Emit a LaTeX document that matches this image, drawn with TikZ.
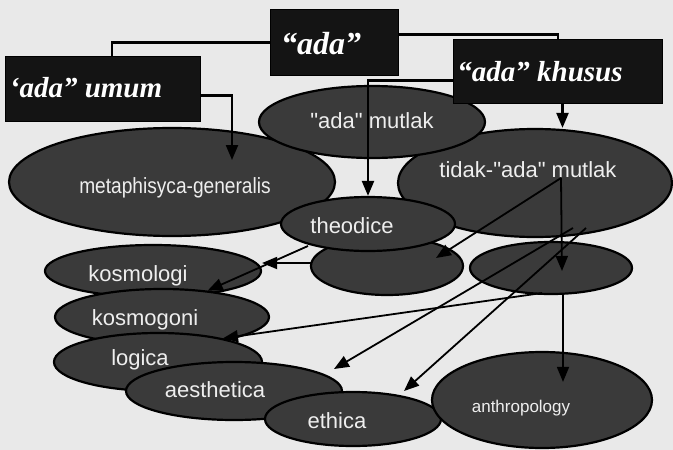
\documentclass[tikz,border=0pt]{standalone}
\usepackage{fontspec}
\setmainfont{Liberation Serif}
\newfontfamily\labfont{Liberation Sans}
\newfontfamily\labnarrow[FakeStretch=0.87]{Liberation Sans}
\usetikzlibrary{shapes.geometric,arrows.meta}
\definecolor{bgc}{HTML}{E9E9E9}
\definecolor{ellfill}{HTML}{3A3A3A}
\definecolor{boxfill}{HTML}{141414}
\definecolor{txtc}{HTML}{EEEEEE}
\begin{document}
\begin{tikzpicture}[x=1pt,y=-1pt,
  ell/.style={ellipse,draw=black,line width=2.2pt,fill=ellfill,inner sep=0pt},
  boxn/.style={rectangle,fill=boxfill,draw=black,line width=1pt,inner sep=0pt,anchor=north west},
  btxt/.style={text=white,font=\fontsize{29}{31}\selectfont\bfseries\itshape,inner sep=0pt},
  lab/.style={text=txtc,font=\labfont\fontsize{22}{24}\selectfont,inner sep=0pt},
  conn/.style={line width=2.8pt,draw=black},
  arr/.style={line width=1.8pt,draw=black,-{Triangle[length=15pt,width=12pt]}}]
\fill[bgc] (0,0) rectangle (673,450);
\useasboundingbox (0,0) rectangle (673,450);

% top ellipses
\node[ell,minimum width=326pt,minimum height=108pt] (meta) at (172,182) {};
\node[ell,minimum width=274pt,minimum height=108pt] (tidak) at (535,183) {};
\node[ell,minimum width=226pt,minimum height=72pt] (mutlak) at (372,122) {};
\node[ell,minimum width=152pt,minimum height=58pt] (mid) at (387,266) {};
\node[ell,minimum width=162pt,minimum height=52pt] (right) at (551,268) {};
\node[ell,minimum width=174pt,minimum height=54pt] (theo) at (368,224) {};
% lower ellipses
\node[ell,minimum width=216pt,minimum height=52pt] (kosl) at (153,271) {};
\node[ell,minimum width=214pt,minimum height=56pt] (kosg) at (162,317) {};
\node[ell,minimum width=208pt,minimum height=58pt] (logi) at (158,362) {};
\node[ell,minimum width=216pt,minimum height=58pt] (aest) at (234,391) {};
\node[ell,minimum width=176pt,minimum height=54pt] (ethi) at (353,419) {};
\node[ell,minimum width=220pt,minimum height=96pt] (anth) at (542,400) {};

% labels
\node[lab] (mutlakT) at (372,121) {"ada" mutlak};
\node[lab,font=\labnarrow\fontsize{22}{24}\selectfont] (metaT) at (175,188) {metaphisyca-generalis};
\node[lab] (tidakT) at (528,170) {tidak-"ada" mutlak};
\node[lab] (theoT) at (352,226) {theodice};
\node[lab] (koslT) at (138,276) {kosmologi};
\node[lab] (kosgT) at (145,320) {kosmogoni};
\node[lab] (logiT) at (140,360) {logica};
\node[lab] (aestT) at (215,390) {aesthetica};
\node[lab] (ethiT) at (337,421) {ethica};
\node[lab,font=\labfont\fontsize{17}{19}\selectfont] (anthT) at (521,408) {anthropology};

% boxes
\node[boxn,minimum width=128pt,minimum height=66pt] (ada) at (270,9) {};
\node[boxn,minimum width=195pt,minimum height=65pt] (umum) at (5,56) {};
\node[boxn,minimum width=209pt,minimum height=64pt] (khusus) at (453,39) {};
\node[btxt,font=\fontsize{32}{34}\selectfont\bfseries\itshape] (adaT) at (321,44) {“ada”};
\node[btxt] (umumT) at (86,88) {‘ada” umum};
\node[btxt] (khususT) at (540,72) {“ada” khusus};

% box connectors
\draw[conn] (ada.west) -| ([xshift=9pt]umum.north);
\draw[conn] ([yshift=8pt]ada.east) -| (khusus.north);
\draw[arr,line width=2.2pt] ([yshift=-6.5pt]umum.east) -| ([xshift=60pt,yshift=22pt]meta.center);
\draw[arr,line width=2.2pt] ([yshift=-9pt]khusus.west) -| (theo.north);
\draw[arr,line width=2.2pt] ([xshift=4.5pt]khusus.south) -- ([xshift=4.5pt]khusus.south |- tidak.north);

% named coordinates for inner arrows
\coordinate (tsrc) at (561,178);
\coordinate (tsrcA) at (573,228);
\coordinate (tsrcB) at (586,228);
\coordinate (midIn) at (436,258);
\coordinate (rightIn) at (562,271);
\coordinate (rsrc) at (563,293);
\coordinate (rsrcL) at (542,293);
\coordinate (theoSrc) at (308,246);
\coordinate (midSrc) at (312,263);
\coordinate (aestIn) at (334,369);
\coordinate (ethiIn) at (404,391);

\draw[arr] (tsrc) -- (midIn);
\draw[arr] (tsrc) -- (rightIn);
\draw[arr] (rsrc) -- (rsrc |- anth.north) -- ([yshift=-31pt]rsrc |- anth.north);
\draw[arr] (tsrcA) -- (aestIn);
\draw[arr] (tsrcB) -- (ethiIn);
\draw[arr] (rsrcL) -- (logi.20);
\draw[arr] (theoSrc) -- (kosg.30);
\draw[arr] (midSrc) -- (kosl.east |- midSrc);
\end{tikzpicture}
\end{document}
